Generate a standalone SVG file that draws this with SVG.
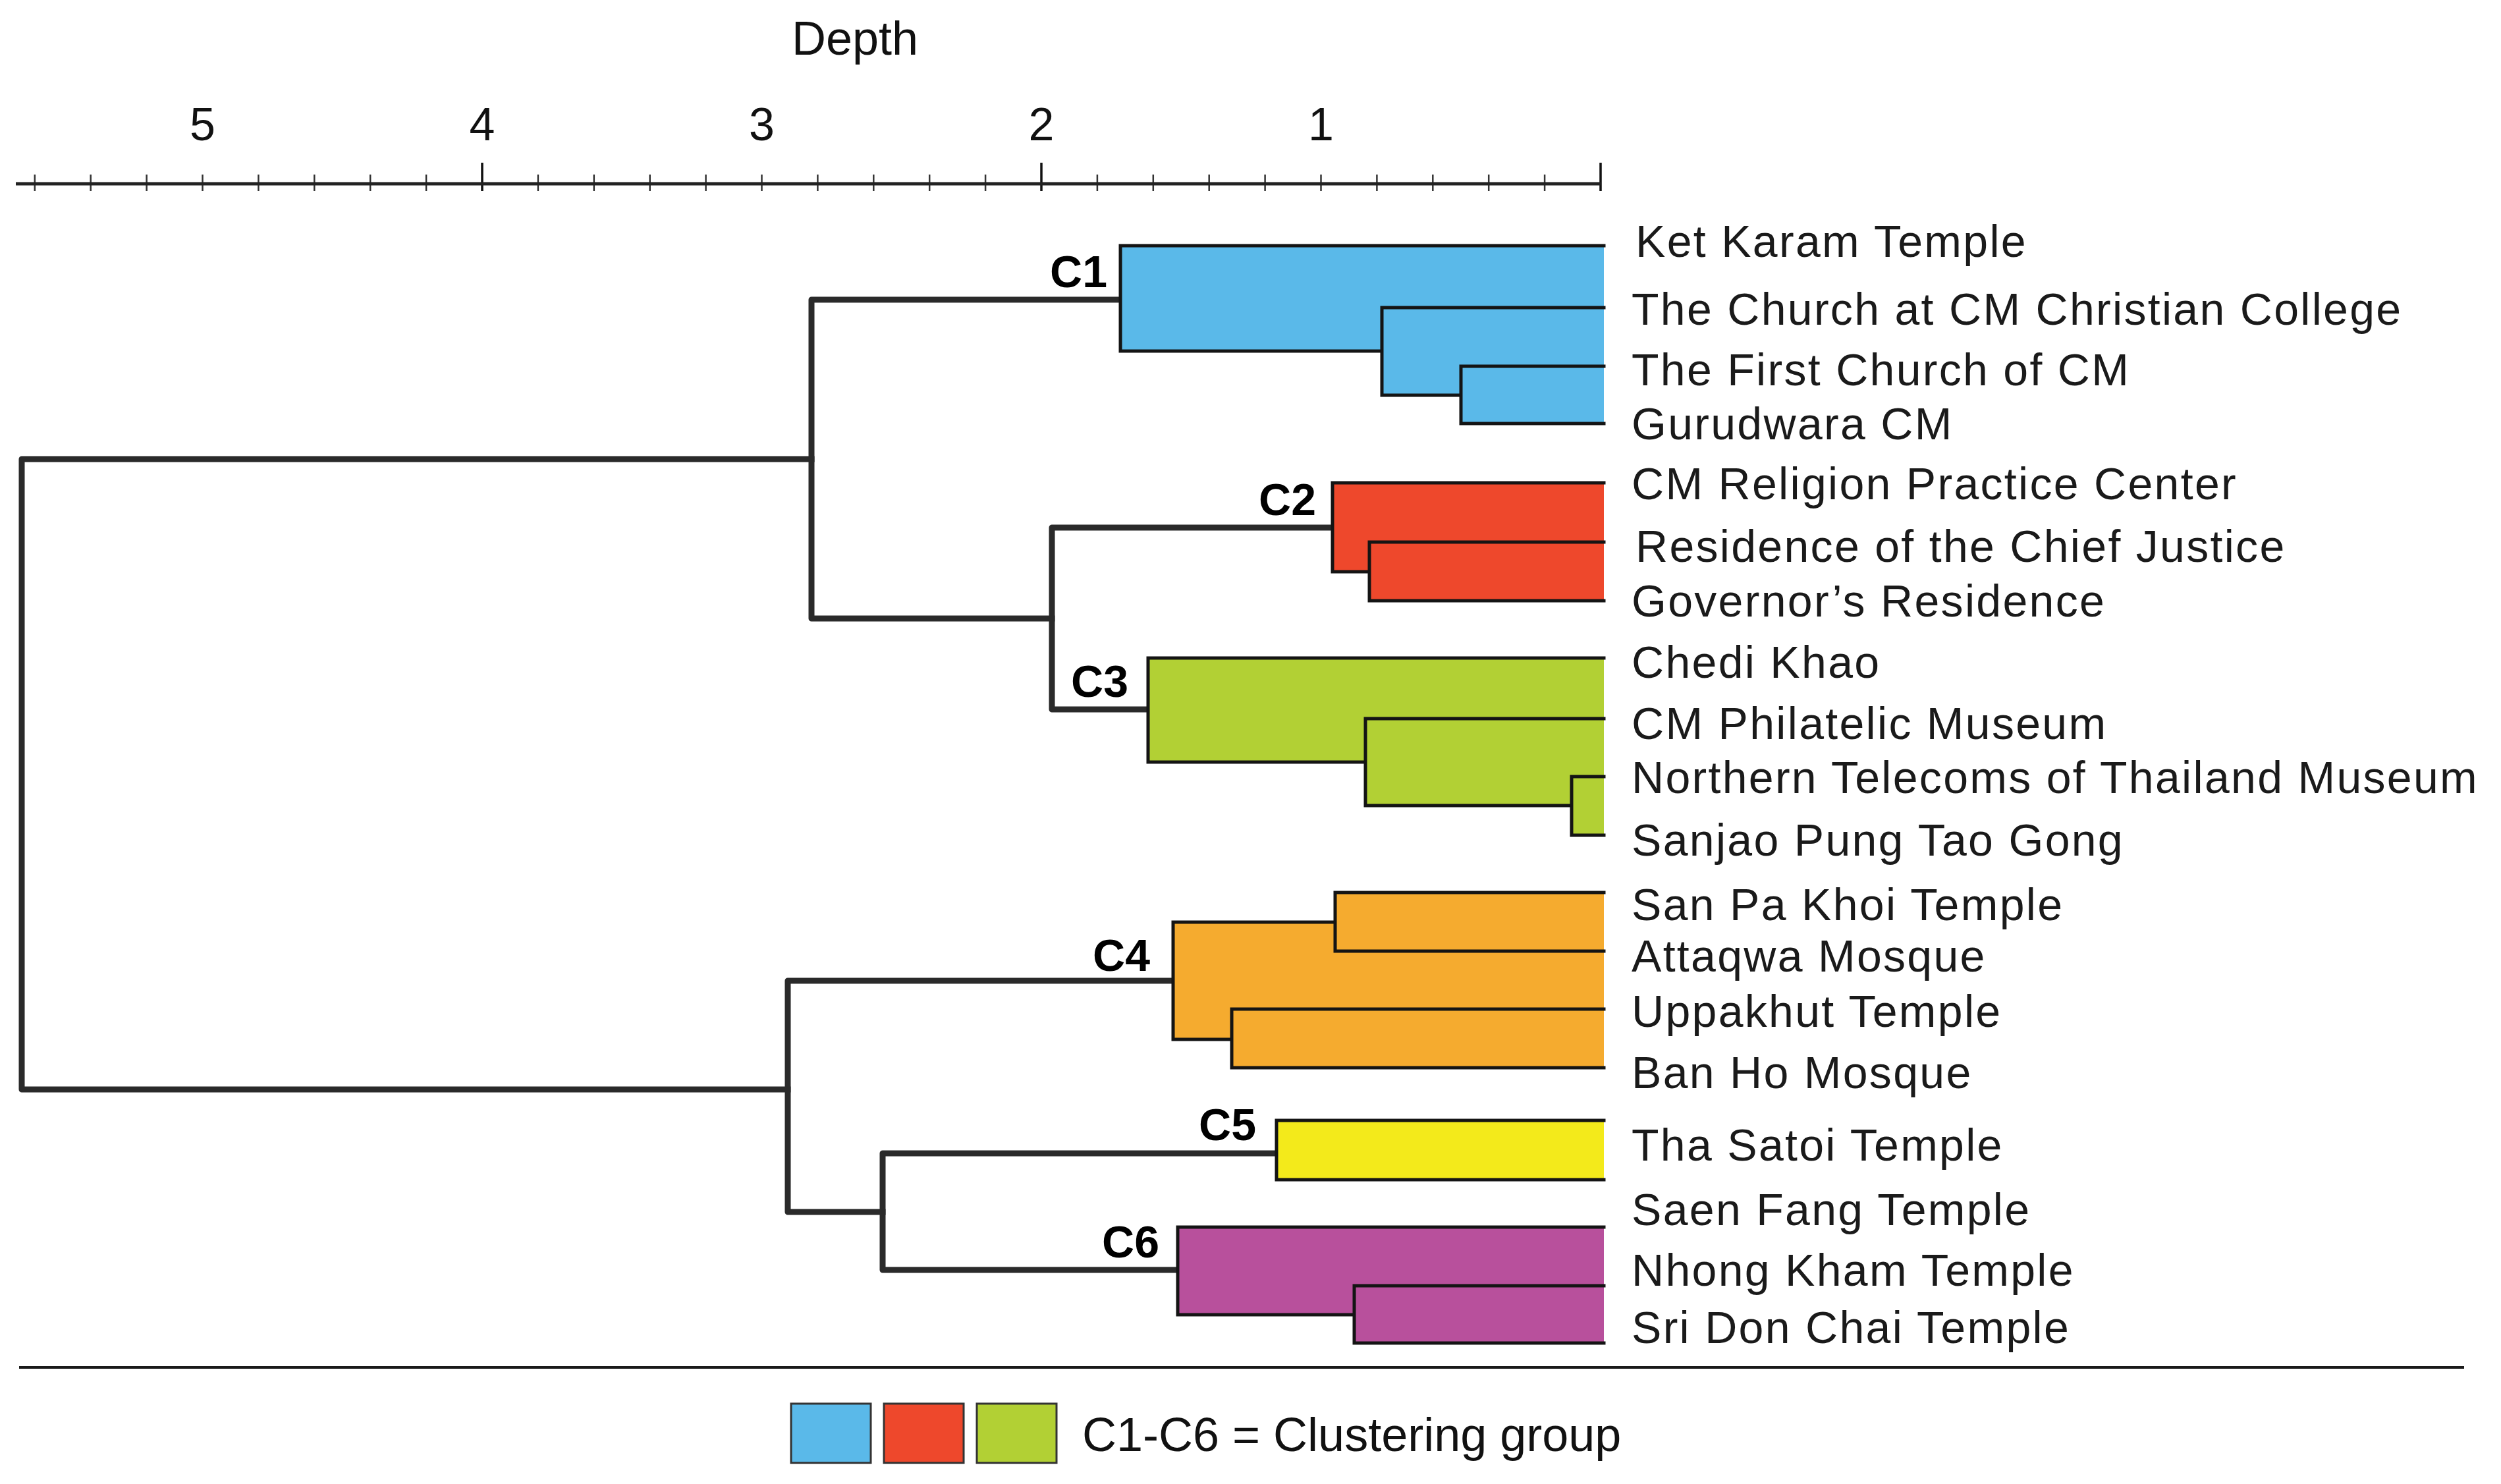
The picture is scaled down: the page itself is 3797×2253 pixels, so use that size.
<svg xmlns="http://www.w3.org/2000/svg" width="3797" height="2253" viewBox="0 0 3797 2253">
<style>
.tree{stroke:#2a2a2a;stroke-width:9;fill:none;stroke-linecap:square;stroke-linejoin:round}
.edge{stroke:#141414;stroke-width:5;fill:none;stroke-linecap:square}
.lbl{font-family:"Liberation Sans",Arial,Helvetica,sans-serif;font-size:68px;letter-spacing:2.3px;fill:#1a1a1a}
.cl{font-family:"Liberation Sans",Arial,Helvetica,sans-serif;font-weight:bold;font-size:68px;text-anchor:end;fill:#000}
.ax{font-family:"Liberation Sans",Arial,Helvetica,sans-serif;font-size:70px;text-anchor:middle;fill:#111}
.minor{stroke:#333;stroke-width:2.5;fill:none}
.major{stroke:#111;stroke-width:3.5;fill:none}
.sw{stroke:#333;stroke-width:3}
</style>
<rect width="3797" height="2253" fill="#ffffff"/>

<g id="axis">
<text class="ax" x="1298" y="83" style="font-size:72px">Depth</text>
<text class="ax" x="307.5" y="213">5</text>
<text class="ax" x="732" y="213">4</text>
<text class="ax" x="1156.5" y="213">3</text>
<text class="ax" x="1581" y="213">2</text>
<text class="ax" x="2005.5" y="213">1</text>
<path class="minor" d="M2345.1,265V290M2260.2,265V290M2175.3,265V290M2090.4,265V290M2005.5,265V290M1920.6,265V290M1835.7,265V290M1750.8,265V290M1665.9,265V290M1496.1,265V290M1411.2,265V290M1326.3,265V290M1241.4,265V290M1156.5,265V290M1071.6,265V290M986.7,265V290M901.8,265V290M816.9,265V290M647.1,265V290M562.2,265V290M477.3,265V290M392.4,265V290M307.5,265V290M222.6,265V290M137.7,265V290M52.8,265V290"/>
<path class="major" d="M2430,247V290M1581,247V290M732,247V290"/>
<line x1="24" y1="279" x2="2430" y2="279" stroke="#222" stroke-width="5"/>
</g>

<g id="connectors">
<path class="tree" d="M1232,697H33V1654H1196"/>
<path class="tree" d="M1701,455H1232V939H1597"/>
<path class="tree" d="M2023,801H1597V1077H1743"/>
<path class="tree" d="M1781,1489H1196V1840H1340"/>
<path class="tree" d="M1938,1751H1340V1928H1788"/>
</g>

<g id="C1">
<path fill="#5AB9E9" d="M1701,373H2435V643H2218V600H2098V533H1701Z"/>
<path class="edge" d="M1701,373H2435M2098,467H2435M2218,556H2435M2218,643H2435M2098,533H1701V373M2218,600H2098V467M2218,556V643"/>
<text class="cl" x="1681" y="436">C1</text>
<text class="lbl" x="2483" y="390">Ket Karam Temple</text>
<text class="lbl" x="2477" y="493">The Church at CM Christian College</text>
<text class="lbl" x="2477" y="585">The First Church of CM</text>
<text class="lbl" x="2477" y="667">Gurudwara CM</text>
</g>

<g id="C2">
<path fill="#EE482C" d="M2023,733H2435V912H2079V868H2023Z"/>
<path class="edge" d="M2023,733H2435M2079,823H2435M2079,912H2435M2079,868H2023V733M2079,823V912"/>
<text class="cl" x="1998" y="782">C2</text>
<text class="lbl" x="2477" y="758">CM Religion Practice Center</text>
<text class="lbl" x="2483" y="853">Residence of the Chief Justice</text>
<text class="lbl" x="2477" y="936">Governor’s Residence</text>
</g>

<g id="C3">
<path fill="#B2D034" d="M1743,999H2435V1268H2386V1223H2073V1157H1743Z"/>
<path class="edge" d="M1743,999H2435M2073,1091H2435M2386,1179H2435M2386,1268H2435M2073,1157H1743V999M2386,1223H2073V1091M2386,1179V1268"/>
<text class="cl" x="1713" y="1058">C3</text>
<text class="lbl" x="2477" y="1029">Chedi Khao</text>
<text class="lbl" x="2477" y="1122">CM Philatelic Museum</text>
<text class="lbl" x="2477" y="1204">Northern Telecoms of Thailand Museum</text>
<text class="lbl" x="2477" y="1299">Sanjao Pung Tao Gong</text>
</g>

<g id="C4">
<path fill="#F5AB2F" d="M1781,1400H2027V1355H2435V1621H1870V1578H1781Z"/>
<path class="edge" d="M2027,1355H2435M2027,1444H2435M1870,1532H2435M1870,1621H2435M2027,1355V1444M1870,1532V1621M2027,1400H1781V1578H1870"/>
<text class="cl" x="1746" y="1474">C4</text>
<text class="lbl" x="2477" y="1397">San Pa Khoi Temple</text>
<text class="lbl" x="2477" y="1475">Attaqwa Mosque</text>
<text class="lbl" x="2477" y="1559">Uppakhut Temple</text>
<text class="lbl" x="2477" y="1652">Ban Ho Mosque</text>
</g>

<g id="C5">
<path fill="#F3EA1B" d="M1938,1701H2435V1791H1938Z"/>
<path class="edge" d="M2435,1701H1938V1791H2435"/>
<text class="cl" x="1907" y="1731">C5</text>
<text class="lbl" x="2477" y="1762">Tha Satoi Temple</text>
</g>

<g id="C6">
<path fill="#B8509C" d="M1788,1863H2435V2039H2056V1996H1788Z"/>
<path class="edge" d="M1788,1863H2435M2056,1952H2435M2056,2039H2435M2056,1996H1788V1863M2056,1952V2039"/>
<text class="cl" x="1760" y="1909">C6</text>
<text class="lbl" x="2477" y="1860">Saen Fang Temple</text>
<text class="lbl" x="2477" y="1952">Nhong Kham Temple</text>
<text class="lbl" x="2477" y="2039">Sri Don Chai Temple</text>
</g>

<line id="separator" x1="29" y1="2076" x2="3741" y2="2076" stroke="#1a1a1a" stroke-width="4"/>

<g id="legend">
<rect class="sw" x="1201" y="2131" width="121" height="90" fill="#5AB9E9"/>
<rect class="sw" x="1342" y="2131" width="121" height="90" fill="#EE482C"/>
<rect class="sw" x="1483" y="2131" width="121" height="90" fill="#B2D034"/>
<text x="1643" y="2203" style="font-family:'Liberation Sans',Arial,Helvetica,sans-serif;font-size:72px;fill:#111">C1-C6 = Clustering group</text>
</g>
</svg>
